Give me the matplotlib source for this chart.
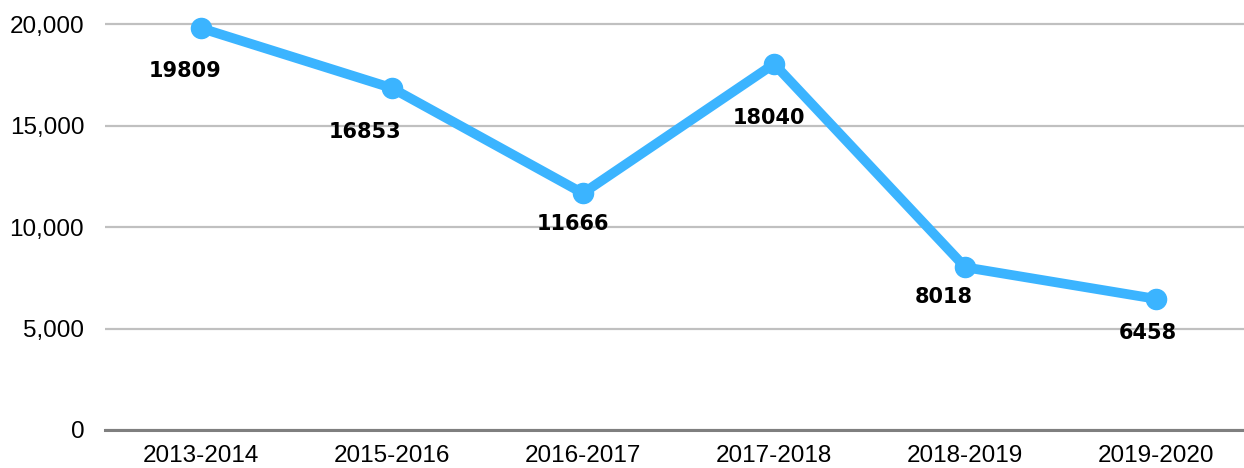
import numpy as np
import matplotlib.pyplot as plt

# data
years = ['2013-2014', '2015-2016', '2016-2017', '2017-2018', '2018-2019', '2019-2020']
counts = [19809, 16853, 11666, 18040, 8018, 6458]

# label offsets in pixels (dx, dy)
label_offsets = [(-16, -43), (-27, -44), (-10, -31), (-5, -54), (-22, -30), (-9, -34)]

fig = plt.figure(figsize=(12.44, 4.68), dpi=100)
ax = fig.add_axes([105 / 1244, 38 / 468, (1252 - 105) / 1244, (454 - 38) / 468])

x = np.arange(len(years))
ax.plot(x, counts, color='#3BB4FF', lw=7, marker='o', ms=14.5, solid_capstyle='round', zorder=3)

for xi, v, (dx, dy) in zip(x, counts, label_offsets):
    ax.annotate(str(v), (xi, v), xytext=(dx * 0.72, dy * 0.72), textcoords='offset points',
                ha='center', va='center', fontsize=15, fontweight='bold',
                family='DejaVu Sans', color='black')

ax.set_xlim(-0.5, len(years) - 0.5)
ax.set_ylim(0, 20500)
ax.set_yticks([0, 5000, 10000, 15000, 20000])
ax.set_yticklabels(['0', '5,000', '10,000', '15,000', '20,000'])
ax.set_xticks(x)
ax.set_xticklabels(years)
ax.yaxis.grid(True, color='#C0C0C0', lw=1.6)
ax.set_axisbelow(True)
for s in ['top', 'right', 'left']:
    ax.spines[s].set_visible(False)
ax.spines['bottom'].set_color('#7F7F7F')
ax.spines['bottom'].set_linewidth(2.2)
ax.tick_params(length=0, labelsize=17.5)
ax.tick_params(axis='y', pad=15)
ax.tick_params(axis='x', pad=11)
for lab in ax.get_xticklabels() + ax.get_yticklabels():
    lab.set_family('Liberation Sans')

fig.savefig('out.png', dpi=100)
